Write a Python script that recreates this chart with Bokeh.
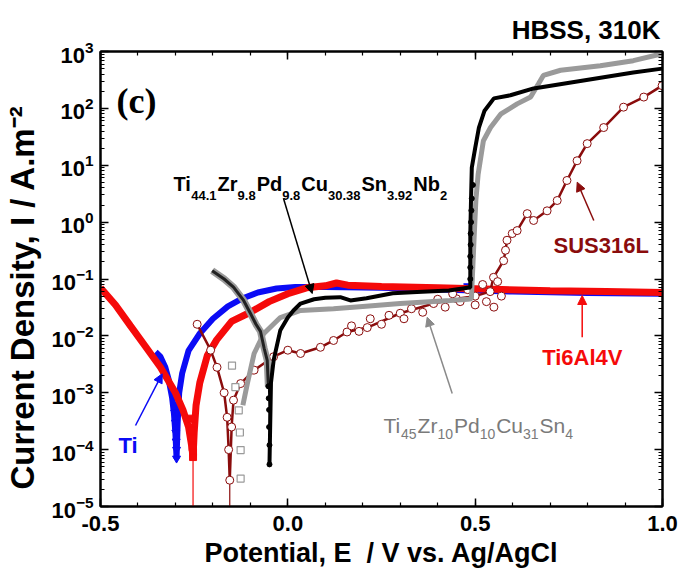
import math
from bokeh.plotting import figure
from bokeh.models import (Range1d, LinearAxis, FixedTicker, Label, Arrow,
                          NormalHead, LogTickFormatter, NumeralTickFormatter, CustomJSTickFormatter)
from bokeh.embed import file_html
from bokeh.resources import INLINE

# ---------------- data ----------------
# Ti (blue)
ti_E = [-0.353, -0.340, -0.327, -0.318, -0.309, -0.304, -0.300, -0.297, -0.294, -0.290, -0.282,
        -0.265, -0.235, -0.200, -0.160, -0.120, -0.080, -0.030, 0.020, 0.100, 0.250, 0.450,
        0.600, 0.800, 1.000]
ti_I = [5.2e-3, 4.3e-3, 2.8e-3, 1.7e-3, 8.3e-4, 4.3e-4, 1.9e-4, 7.0e-5, 3.0e-4, 1.0e-3, 2.2e-3,
        5.5e-3, 1.1e-2, 2.0e-2, 3.3e-2, 4.6e-2, 5.8e-2, 6.8e-2, 7.2e-2, 7.2e-2, 7.0e-2, 6.4e-2,
        6.0e-2, 5.7e-2, 5.5e-2]
ti_dip_E = [-0.302, -0.300, -0.299, -0.298, -0.297, -0.297, -0.296, 0.480]
ti_dip_I = [4.5e-4, 3.0e-4, 2.0e-4, 1.4e-4, 1.0e-4, 7.0e-5, 4.5e-4, 7.5e-2]

# Ti6Al4V (red)
tav_E = [-0.500, -0.460, -0.420, -0.380, -0.340, -0.300, -0.280, -0.265, -0.257, -0.253, -0.250,
         -0.245, -0.235, -0.215, -0.190, -0.150, -0.100, -0.050, 0.000, 0.050, 0.100, 0.130,
         0.160, 0.250, 0.400, 0.550, 0.700, 0.850, 1.000]
tav_I = [7.0e-2, 3.5e-2, 1.5e-2, 6.5e-3, 2.8e-3, 1.0e-3, 5.0e-4, 2.5e-4, 1.2e-4, 7.4e-5, 2.0e-4,
         6.0e-4, 1.5e-3, 4.5e-3, 8.5e-3, 1.8e-2, 2.6e-2, 4.0e-2, 5.5e-2, 7.0e-2, 7.6e-2, 8.5e-2,
         7.8e-2, 7.4e-2, 7.0e-2, 6.6e-2, 6.2e-2, 6.0e-2, 5.8e-2]
tav_dip_E = [-0.258, -0.256, -0.255, -0.254, -0.253, -0.253]
tav_dip_I = [3.5e-4, 2.2e-4, 1.6e-4, 1.1e-4, 9.0e-5, 7.4e-5]
tav_tail_E = [-0.253, -0.253]
tav_tail_I = [7.4e-5, 1.0e-6]

# SUS316L (dark red)
sus_E = [-0.242, -0.206, -0.189, -0.170, -0.162, -0.158, -0.155, -0.150, -0.145, -0.126, -0.090,
         -0.038, 0.000, 0.034, 0.087, 0.122, 0.158, 0.212, 0.300, 0.389, 0.450, 0.500, 0.540,
         0.549, 0.576, 0.581, 0.585, 0.599, 0.612, 0.639, 0.656, 0.692, 0.719, 0.745, 0.772,
         0.799, 0.843, 0.896, 0.950, 0.999]
sus_I = [1.6e-2, 5.6e-3, 2.8e-3, 1.0e-3, 3.7e-4, 1.0e-4, 2.9e-5, 2.5e-4, 7.4e-4, 1.45e-3, 2.5e-3,
         4.3e-3, 5.6e-3, 4.9e-3, 6.3e-3, 8.3e-3, 1.17e-2, 1.4e-2, 2.5e-2, 3.7e-2, 4.5e-2, 5.0e-2,
         6.0e-2, 1.07e-1, 2.1e-1, 3.2e-1, 4.8e-1, 6.3e-1, 7.1e-1, 1.41, 1.07, 1.58, 2.4, 5.4, 12.0,
         24.0, 46.0, 105.0, 158.0, 251.0]
sus_scatter_E = [0.17, 0.19, 0.22, 0.25, 0.27, 0.31, 0.33, 0.36, 0.40, 0.42, 0.44, 0.46, 0.48,
                 0.50, 0.52, 0.53, 0.55, 0.56, 0.57]
sus_scatter_I = [1.5e-2, 1.2e-2, 2.0e-2, 1.6e-2, 2.3e-2, 2.0e-2, 3.0e-2, 2.6e-2, 4.4e-2, 3.2e-2,
                 5.5e-2, 4.0e-2, 6.5e-2, 3.5e-2, 8.0e-2, 4.0e-2, 3.2e-2, 9.0e-2, 5.0e-2]
sus_tail_E = [-0.155, -0.155]
sus_tail_I = [2.9e-5, 1.0e-6]

# Ti45Zr10Pd10Cu31Sn4 (grey)
tz_cat_E = [-0.149, -0.140, -0.131, -0.128, -0.126, -0.126]
tz_cat_I = [3.0e-3, 1.26e-3, 4.9e-4, 2.0e-4, 9.8e-5, 3.1e-5]
tz_E = [-0.120, -0.108, -0.090, -0.064, -0.020, 0.034, 0.122, 0.200, 0.300, 0.434, 0.480, 0.490,
        0.497, 0.502, 0.508, 0.522, 0.541, 0.568, 0.612, 0.648, 0.669, 0.682, 0.728, 0.834,
        0.922, 0.999]
tz_I = [6.0e-4, 1.45e-3, 4.9e-3, 1.1e-2, 2.1e-2, 2.8e-2, 3.0e-2, 3.3e-2, 3.7e-2, 4.2e-2, 4.4e-2,
        4.5e-2, 0.5, 2.5, 7.0, 27.0, 46.0, 79.0, 120.0, 158.0, 270.0, 380.0, 468.0, 562.0,
        690.0, 912.0]

# Ti44.1Zr9.8Pd9.8Cu30.38Sn3.92Nb2 (black)
nb_cat_E = [-0.202, -0.170, -0.145, -0.118, -0.100, -0.085, -0.073, -0.063, -0.055, -0.052]
nb_cat_I = [1.4e-1, 1.0e-1, 7.2e-2, 4.2e-2, 2.5e-2, 1.6e-2, 1.2e-2, 6.0e-3, 3.7e-3, 1.3e-3]
nb_dip_E = [-0.052, -0.051, -0.050, -0.050, -0.049, -0.049]
nb_dip_I = [1.3e-3, 8.0e-4, 5.0e-4, 2.5e-4, 1.2e-4, 5.5e-5]
nb_E = [-0.049, -0.045, -0.038, -0.020, 0.000, 0.015, 0.034, 0.070, 0.100, 0.140, 0.167, 0.210,
        0.280, 0.345, 0.430, 0.480, 0.487, 0.487, 0.489, 0.491, 0.500, 0.510, 0.525, 0.550,
        0.594, 0.656, 0.789, 0.922, 0.999]
nb_I = [5.5e-5, 1.5e-3, 3.7e-3, 1.26e-2, 2.1e-2, 2.8e-2, 3.7e-2, 4.4e-2, 4.7e-2, 4.8e-2, 4.2e-2,
        4.6e-2, 5.6e-2, 5.9e-2, 6.3e-2, 7.0e-2, 7.1e-2, 6.3e-1, 2.6, 9.1, 20.0, 46.0, 91.0,
        150.0, 170.0, 224.0, 310.0, 427.0, 500.0]
nb_dots_E = [0.487, 0.487, 0.487, 0.488, 0.488, 0.489, 0.490, 0.491, 0.494]
nb_dots_I = [0.10, 0.16, 0.25, 0.40, 0.63, 1.0, 1.6, 2.6, 4.5]

x_major = [-0.5, 0.0, 0.5, 1.0]
y_major_exp = list(range(-5, 4))

NB = "\u00a0"
x_title = "Potential, E" + NB + NB + "/ V vs. Ag/AgCl"
y_title = "Current Density, I / A.m\u207b\u00b2" + NB * 4
corner_title = "HBSS, 310K"

# ---------------- layout ----------------
W, H = 683, 574
BL, BR, BT, BB = 100, 21, 51, 68
X0, X1 = -0.5, 1.0
LY0, LY1 = -5, 3
FW = W - BL - BR
FH = H - BT - BB


def px2x(px):
    return X0 + (px - BL) / FW * (X1 - X0)


def py2y(py):
    return 10 ** (LY1 - (py - BT) / FH * (LY1 - LY0))


FONT = "Liberation Sans"

p = figure(width=W, height=H, x_range=Range1d(X0, X1), y_range=Range1d(1e-5, 1e3),
           y_axis_type="log", output_backend="svg", toolbar_location=None,
           min_border_left=BL, min_border_right=BR, min_border_top=BT, min_border_bottom=BB)
p.background_fill_color = "white"
p.border_fill_color = "white"
p.outline_line_color = "black"
p.outline_line_width = 2
p.xgrid.grid_line_color = None
p.ygrid.grid_line_color = None

p.title.text = corner_title
p.title.align = "right"
p.title.text_font = FONT
p.title.text_font_style = "bold"
p.title.text_font_size = "26px"
p.title.text_color = "black"
p.title.standoff = 14
p.title.offset = 2

xt = FixedTicker(ticks=x_major, minor_ticks=[round(-0.5 + 0.1 * i, 1) for i in range(16)])
yt = FixedTicker(ticks=[float("1e%d" % k) for k in y_major_exp],
                 minor_ticks=[m * float("1e%d" % k) for k in y_major_exp[:-1] for m in range(2, 10)])


def style_axis(ax, standoff):
    ax.axis_line_width = 2
    ax.axis_line_color = "black"
    ax.major_tick_in = 8
    ax.major_tick_out = 0
    ax.minor_tick_in = 4
    ax.minor_tick_out = 0
    ax.major_tick_line_width = 1.5
    ax.minor_tick_line_width = 1.2
    ax.major_tick_line_color = "black"
    ax.minor_tick_line_color = "black"
    ax.major_label_text_font = FONT
    ax.major_label_text_font_style = "bold"
    ax.major_label_text_color = "black"
    ax.major_label_standoff = standoff
    ax.major_label_text_font_size = "22px"
    ax.axis_label_text_font = FONT
    ax.axis_label_text_font_style = "bold"
    ax.axis_label_text_color = "black"


xa = p.xaxis[0]
xa.ticker = xt
xa.formatter = NumeralTickFormatter(format="0.0")
style_axis(xa, 9)
xa.axis_label = x_title
xa.axis_label_text_font_size = "27px"
xa.axis_label_standoff = 4

ya = p.yaxis[0]
ya.ticker = yt
ya.formatter = LogTickFormatter()
style_axis(ya, 7)
ya.axis_label = y_title
ya.axis_label_text_font_size = "33px"
ya.axis_label_standoff = 7

blank = CustomJSTickFormatter(code="return '';")
top = LinearAxis(ticker=xt, formatter=blank)
style_axis(top, 0)
top.major_label_text_font_size = "2px"
p.add_layout(top, "above")
right = LinearAxis(ticker=yt, formatter=blank)
style_axis(right, 0)
right.major_label_text_font_size = "2px"
p.add_layout(right, "right")

BLUE = "#0b0bf5"
RED = "#f50a0a"
MAROON = "#8a0c0c"
GREY = "#9a9a9a"

# ---------------- curves ----------------
p.line(ti_E, ti_I, line_color=BLUE, line_width=6)
p.scatter(ti_dip_E, ti_dip_I, marker="inverted_triangle", size=8, fill_color=BLUE, line_color=BLUE)

p.line(tav_tail_E, tav_tail_I, line_color=RED, line_width=1.2)
p.line(tav_E, tav_I, line_color=RED, line_width=7)
p.scatter(tav_dip_E, tav_dip_I, marker="square", size=7, fill_color=RED, line_color=RED)

p.line(sus_tail_E, sus_tail_I, line_color=MAROON, line_width=1.2)
p.line(sus_E, sus_I, line_color=MAROON, line_width=2.5)
p.scatter(sus_E, sus_I, marker="circle", size=8, fill_color="white", line_color=MAROON, line_width=1)
p.scatter(sus_scatter_E, sus_scatter_I, marker="circle", size=8, fill_color="white",
          line_color=MAROON, line_width=1)

p.line(tz_E, tz_I, line_color=GREY, line_width=5)
p.scatter(tz_cat_E, tz_cat_I, marker="square", size=7, fill_color="white", line_color=GREY, line_width=1.2)

p.line(nb_cat_E, nb_cat_I, line_color=GREY, line_width=7)
p.line(nb_cat_E, nb_cat_I, line_color="#222222", line_width=3)
p.line(nb_dip_E, nb_dip_I, line_color="black", line_width=1)
p.scatter(nb_dip_E, nb_dip_I, marker="circle", size=5, fill_color="black", line_color="black")
p.line(nb_E, nb_I, line_color="black", line_width=4)
p.scatter(nb_dots_E, nb_dots_I, marker="circle", size=5, fill_color="black", line_color="black")

# ---------------- texts ----------------
WB = {' ': 278, ',': 278, '.': 278, '/': 278, '-': 333, '(': 333, ')': 333,
      'A': 722, 'B': 722, 'C': 722, 'D': 722, 'E': 667, 'H': 722, 'I': 278, 'K': 722, 'L': 611,
      'N': 722, 'P': 667, 'S': 667, 'T': 611, 'U': 722, 'V': 667, 'Z': 611,
      'a': 556, 'b': 611, 'c': 556, 'd': 611, 'e': 556, 'g': 611, 'i': 278, 'l': 278, 'm': 889,
      'n': 611, 'o': 611, 'r': 389, 's': 556, 't': 333, 'u': 611, 'v': 556, 'y': 556}
WR = {'T': 611, 'i': 222, 'Z': 611, 'r': 333, 'P': 667, 'd': 556, 'C': 722, 'u': 556, 'S': 667,
      'n': 556}


def tw(s, size, bold=True):
    tab = WB if bold else WR
    return sum(tab.get(c, 556) for c in s) / 1000 * size


def txt(px, py, s, size, color="black", style="bold", font=FONT, align="left", angle=0.0):
    p.add_layout(Label(x=px2x(px), y=py2y(py), text=s, text_font=font,
                       text_font_size="%gpx" % size, text_font_style=style, text_color=color,
                       text_align=align, text_baseline="alphabetic", angle=angle))


def formula(px, py, pieces, size, sub_size, sub_drop, color, bold):
    style = "bold" if bold else "normal"
    x = px
    for i, s in enumerate(pieces):
        if i % 2 == 0:
            txt(x, py, s, size, color, style)
            x += tw(s, size, bold)
        else:
            txt(x, py + sub_drop, s, sub_size, color, style)
            x += tw(s, sub_size, bold) + 1


def arrow(p0, p1, color):
    p.add_layout(Arrow(end=NormalHead(size=9, fill_color=color, line_color=color),
                       x_start=px2x(p0[0]), y_start=py2y(p0[1]),
                       x_end=px2x(p1[0]), y_end=py2y(p1[1]),
                       line_color=color, line_width=1.5))


txt(116, 100, "(c)", 36, font="Liberation Serif")

formula(173, 183, ["Ti", "44.1", "Zr", "9.8", "Pd", "9.8", "Cu", "30.38", "Sn", "3.92", "Nb", "2"],
        20, 13, 12, "black", True)
arrow((283, 198), (311.7, 293), "black")

formula(383, 425, ["Ti", "45", "Zr", "10", "Pd", "10", "Cu", "31", "Sn", "4"],
        21, 14, 8, "#7a7a7a", False)
arrow((451.7, 393), (426.7, 316.7), "#8a8a8a")

txt(553, 245, "SUS316L", 22, color=MAROON)
arrow((593.3, 220), (576.7, 181.7), MAROON)

txt(541.7, 356.7, "Ti6Al4V", 22, color=RED)
arrow((581.7, 336.7), (581.7, 295), RED)

txt(118, 445, "Ti", 22, color=BLUE)
arrow((135, 425), (161.7, 373.3), BLUE)

open("out.html", "w").write(file_html(p, INLINE))
